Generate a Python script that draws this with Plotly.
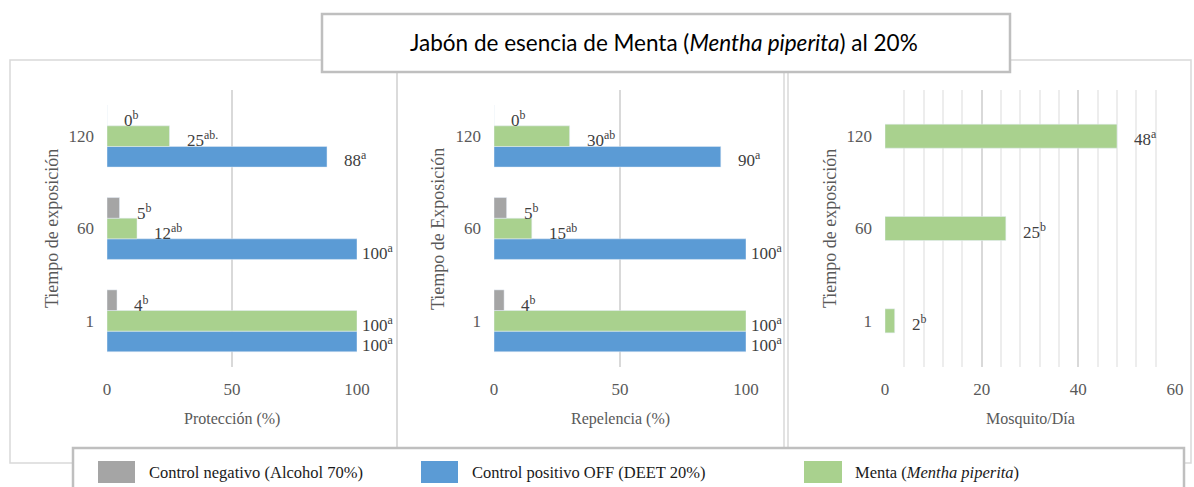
import plotly.graph_objects as go

W, H = 1194, 487

# ---------------- data ----------------
tiempos = ["1", "60", "120"]

prot_negativo = [4, 5, 0]
prot_positivo = [100, 100, 88]
prot_menta = [100, 12, 25]
prot_neg_let = ["b", "b", "b"]
prot_pos_let = ["a", "a", "a"]
prot_men_let = ["a", "ab", "ab."]

rep_negativo = [4, 5, 0]
rep_positivo = [100, 100, 90]
rep_menta = [100, 15, 30]
rep_neg_let = ["b", "b", "b"]
rep_pos_let = ["a", "a", "a"]
rep_men_let = ["a", "ab", "ab"]

mosq_menta = [2, 25, 48]
mosq_let = ["b", "b", "a"]

serie_nombres = ["Control negativo (Alcohol 70%)",
                 "Control positivo OFF (DEET 20%)",
                 "Menta (<i>Mentha piperita</i>)"]
titulo = "Jabón de esencia de Menta (<i>Mentha piperita</i>) al 20%"
x_titulos = ["Protección (%)", "Repelencia (%)", "Mosquito/Día"]
y_titulos = ["Tiempo de exposición", "Tiempo de Exposición", "Tiempo de exposición"]

# ---------------- styles ----------------
C_GRAY = "#A5A5A5"
C_BLUE = "#5B9BD5"
C_GREEN = "#A9D18E"
SERIF = "Liberation Serif"
TXT = "#595959"
LBL = "#404040"


def px(x):
    return x / W


def py(y):
    return 1 - y / H


fig = go.Figure()

# panel 1 & 2 grouped bars (first trace = bottom of group)
panels = [
    ("x", "y", prot_negativo, prot_positivo, prot_menta, prot_neg_let, prot_pos_let, prot_men_let),
    ("x2", "y2", rep_negativo, rep_positivo, rep_menta, rep_neg_let, rep_pos_let, rep_men_let),
]
annotations = []
for xa, ya, neg, pos, men, nl, pl, ml in panels:
    fig.add_trace(go.Bar(y=tiempos, x=pos, orientation="h", marker_color=C_BLUE,
                         name=serie_nombres[1], xaxis=xa, yaxis=ya, showlegend=False))
    fig.add_trace(go.Bar(y=tiempos, x=men, orientation="h", marker_color=C_GREEN,
                         name=serie_nombres[2], xaxis=xa, yaxis=ya, showlegend=False))
    fig.add_trace(go.Bar(y=tiempos, x=neg, orientation="h", marker_color=C_GRAY,
                         name=serie_nombres[0], xaxis=xa, yaxis=ya, showlegend=False))
    for vals, lets, ysh in ((neg, nl, 17), (men, ml, -3), (pos, pl, -23)):
        for i, (v, l) in enumerate(zip(vals, lets)):
            annotations.append(dict(
                x=v, y=i, xref=xa, yref=ya, text=f"{v}<sup>{l}</sup>",
                showarrow=False, xanchor="left", yanchor="middle",
                xshift=3 if v >= 100 else 15, yshift=ysh,
                font=dict(family=SERIF, size=17, color=LBL)))

# panel 3
fig.add_trace(go.Bar(y=tiempos, x=mosq_menta, orientation="h", marker_color=C_GREEN,
                     name=serie_nombres[2], xaxis="x3", yaxis="y3", showlegend=False,
                     width=0.26, offset=-0.13))
for i, (v, l) in enumerate(zip(mosq_menta, mosq_let)):
    annotations.append(dict(
        x=v, y=i, xref="x3", yref="y3", text=f"{v}<sup>{l}</sup>",
        showarrow=False, xanchor="left", yanchor="middle", xshift=15, yshift=-2,
        font=dict(family=SERIF, size=17, color=LBL)))

ydom = [py(367), py(90)]
xdoms = [[px(107), px(357)], [px(494), px(746)], [px(885), px(1175)]]
xranges = [[0, 100], [0, 100], [0, 60]]
dticks = [50, 50, 20]

layout = dict(
    width=W, height=H, autosize=False,
    margin=dict(l=0, r=0, t=0, b=0),
    paper_bgcolor="white", plot_bgcolor="white",
    barmode="group", bargap=0.33, bargroupgap=0,
    showlegend=False,
)
suffix = ["", "2", "3"]
for i in range(3):
    s = suffix[i]
    xaxis = dict(domain=xdoms[i], range=xranges[i], dtick=dticks[i], tick0=0,
                 anchor="y" + s, showgrid=True, gridcolor="#D9D9D9", gridwidth=1.5,
                 zeroline=False, showline=False, ticks="", automargin=False,
                 ticklabelstandoff=10,
                 tickfont=dict(family=SERIF, size=17, color=TXT), fixedrange=True)
    if i == 2:
        xaxis["minor"] = dict(dtick=4, tick0=0, showgrid=True, gridcolor="#EDEDED", gridwidth=1.5)
    yaxis = dict(domain=ydom, anchor="x" + s, type="category",
                 categoryorder="array", categoryarray=tiempos, range=[-0.5, 2.5],
                 showgrid=False, zeroline=False, showline=False, ticks="", automargin=False,
                 ticklabelstandoff=12,
                 tickfont=dict(family=SERIF, size=17, color=TXT), fixedrange=True)
    layout["xaxis" + s] = xaxis
    layout["yaxis" + s] = yaxis

# axis titles
xt_cx = [232, 620, 1030]
yt_cx = [52, 438, 830]
for i in range(3):
    annotations.append(dict(x=px(xt_cx[i]), y=py(419), xref="paper", yref="paper",
                            text=x_titulos[i], showarrow=False, xanchor="center", yanchor="middle",
                            font=dict(family=SERIF, size=16, color=TXT)))
    annotations.append(dict(x=px(yt_cx[i]), y=py(229), xref="paper", yref="paper",
                            text=y_titulos[i], showarrow=False, textangle=-90,
                            xanchor="center", yanchor="middle",
                            font=dict(family=SERIF, size=18, color=TXT)))

shapes = []
# panel frames
for x0, x1 in ((10, 397), (397, 784), (788, 1191)):
    shapes.append(dict(type="rect", xref="paper", yref="paper",
                       x0=px(x0), x1=px(x1), y0=py(463), y1=py(60),
                       line=dict(color="#D9D9D9", width=1.5), fillcolor="rgba(0,0,0,0)"))
# title box
shapes.append(dict(type="rect", xref="paper", yref="paper",
                   x0=px(322), x1=px(1010), y0=py(72), y1=py(14),
                   line=dict(color="#BFBFBF", width=2.5), fillcolor="white"))
annotations.append(dict(x=px(664), y=py(42), xref="paper", yref="paper", text=titulo,
                        showarrow=False, xanchor="center", yanchor="middle",
                        font=dict(family="Lato", size=22.5, color="#000000")))
# legend box
shapes.append(dict(type="rect", xref="paper", yref="paper",
                   x0=px(73), x1=px(1184), y0=py(495), y1=py(448),
                   line=dict(color="#BFBFBF", width=2.5), fillcolor="white"))
leg_cols = [C_GRAY, C_BLUE, C_GREEN]
leg_sw = [(98, 135), (421, 458), (804, 842)]
leg_tx = [147, 470, 853]
for c, (a, b), tx, name in zip(leg_cols, leg_sw, leg_tx, serie_nombres):
    shapes.append(dict(type="rect", xref="paper", yref="paper",
                       x0=px(a), x1=px(b), y0=py(483), y1=py(461),
                       line=dict(width=0), fillcolor=c))
    annotations.append(dict(x=px(tx), y=py(472), xref="paper", yref="paper", text=name,
                            showarrow=False, xanchor="left", yanchor="middle",
                            font=dict(family=SERIF, size=16.5, color="#1A1A1A")))

layout["shapes"] = shapes
layout["annotations"] = annotations
fig.update_layout(**layout)
fig.write_html("out.html",
               config={"responsive": False, "displayModeBar": False},
               post_script="document.body.style.margin='0';document.body.style.overflow='hidden';")
